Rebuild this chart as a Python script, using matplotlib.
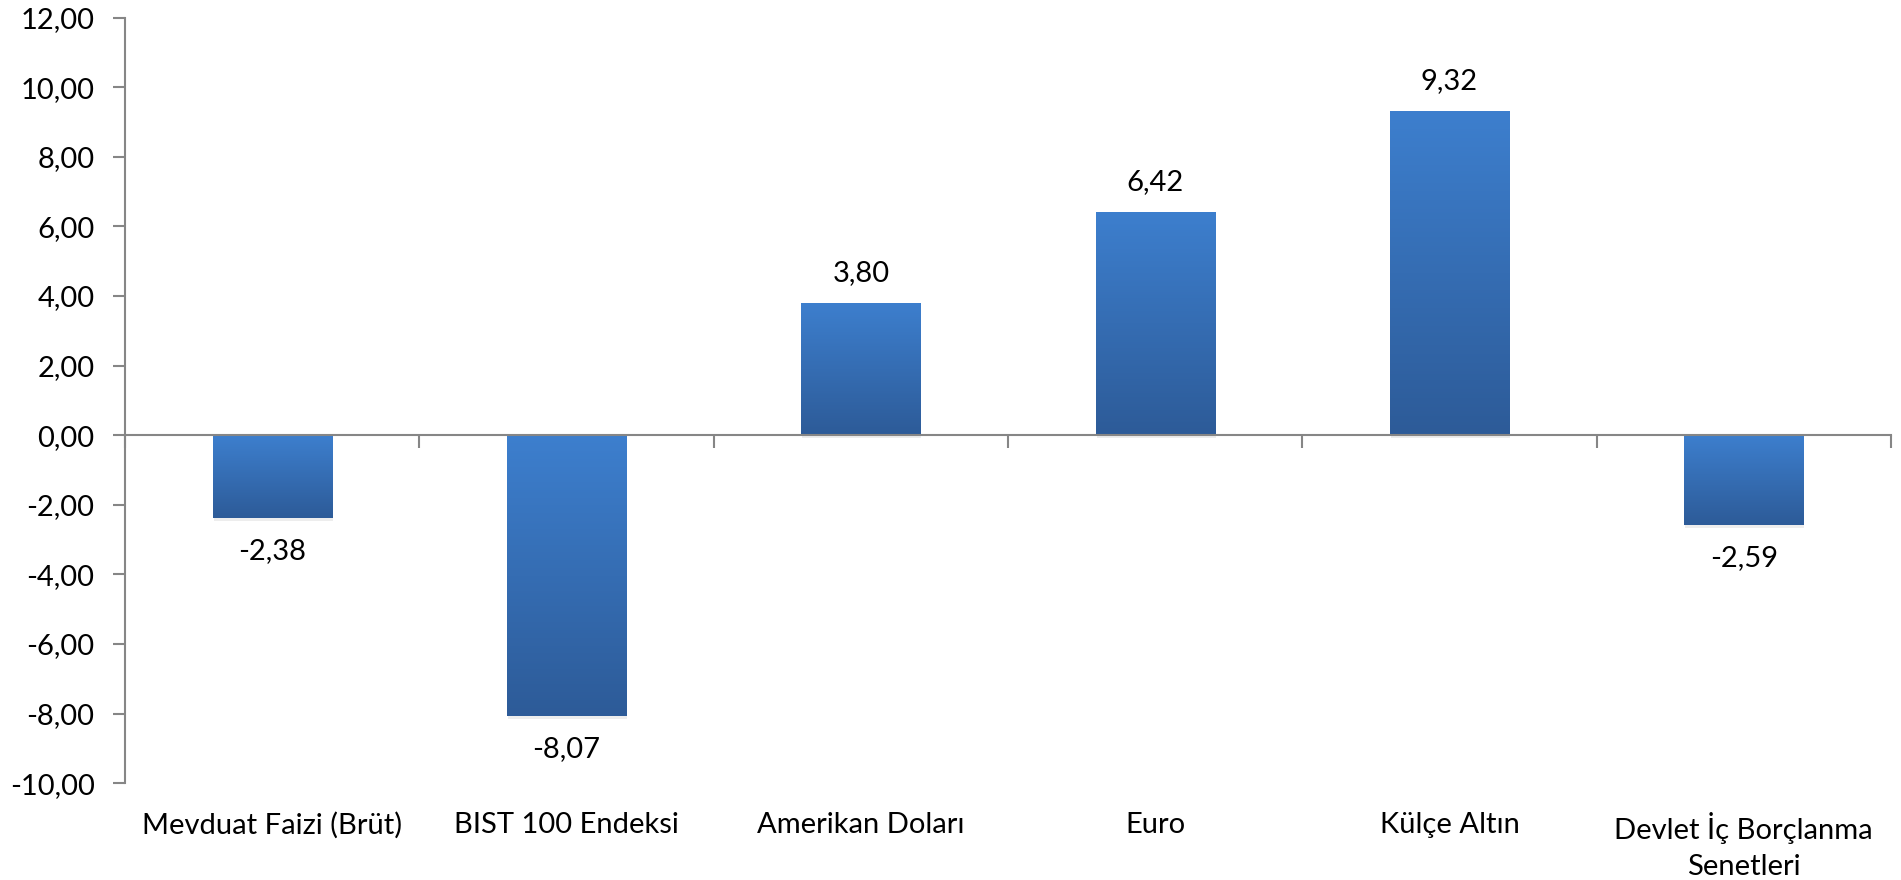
import numpy as np
import matplotlib.pyplot as plt
from matplotlib.colors import LinearSegmentedColormap
from matplotlib.transforms import blended_transform_factory, offset_copy

plt.rcParams['font.family'] = ['Lato', 'DejaVu Sans']

categories = ["Mevduat Faizi (Brüt)", "BIST 100 Endeksi", "Amerikan Doları",
              "Euro", "Külçe Altın", "Devlet İç Borçlanma\nSenetleri"]
values = [-2.38, -8.07, 3.80, 6.42, 9.32, -2.59]
yticks = [-10, -8, -6, -4, -2, 0, 2, 4, 6, 8, 10, 12]

fig = plt.figure(figsize=(19.01, 8.80), dpi=100)
ax = fig.add_axes([0.0658, 0.110, 0.9289, 0.870])

x = np.arange(len(categories))
grad = LinearSegmentedColormap.from_list("g", ["#2D5B98", "#3D7FCE"])

# soft shadow behind bars
ax.bar(x, values, width=0.405, color="#000000", alpha=0.07, zorder=1,
       transform=offset_copy(ax.transData, fig=fig, x=1, y=-3, units="dots"))
bars = ax.bar(x, values, width=0.405, color="none", zorder=2)

# vertical gradient fill: light at top of bar, dark at bottom
img = np.linspace(0, 1, 256).reshape(-1, 1)
for b in bars:
    x0, w = b.get_x(), b.get_width()
    y0, h = b.get_y(), b.get_height()
    lo, hi = min(y0, y0 + h), max(y0, y0 + h)
    im = ax.imshow(img, cmap=grad, aspect="auto", origin="lower",
                   extent=[x0, x0 + w, lo, hi], zorder=2)
    im.set_clip_path(b)

for xi, v in zip(x, values):
    label = f"{v:.2f}".replace(".", ",")
    if v >= 0:
        ax.annotate(label, (xi, v), xytext=(0, 17), textcoords="offset pixels",
                    ha="center", va="bottom", fontsize=21)
    else:
        ax.annotate(label, (xi, v), xytext=(0, -20), textcoords="offset pixels",
                    ha="center", va="top", fontsize=21)

ax.set_xlim(-0.5, len(categories) - 0.5)
ax.set_ylim(-10, 12)
ax.set_yticks(yticks)
ax.set_yticklabels([f"{t:.2f}".replace(".", ",") for t in yticks], fontsize=21)

for s in ["top", "right"]:
    ax.spines[s].set_visible(False)
ax.spines["left"].set_color("#868686")
ax.spines["left"].set_linewidth(1.5)
ax.spines["bottom"].set_position(("data", 0))
ax.spines["bottom"].set_color("#868686")
ax.spines["bottom"].set_linewidth(1.5)
ax.spines["bottom"].set_zorder(3)

ax.tick_params(axis="y", length=9, width=1.5, color="#868686", pad=13)
ax.set_xticks(np.arange(-0.5, len(categories)))
ax.set_xticklabels([])
ax.tick_params(axis="x", length=9, width=1.5, color="#868686", direction="out")

trans = blended_transform_factory(ax.transData, ax.transAxes)
for xi, c in zip(x, categories):
    ax.text(xi, -0.038, c, transform=trans, ha="center", va="top",
            fontsize=21, linespacing=1.45)

fig.savefig("out.png", dpi=100)
